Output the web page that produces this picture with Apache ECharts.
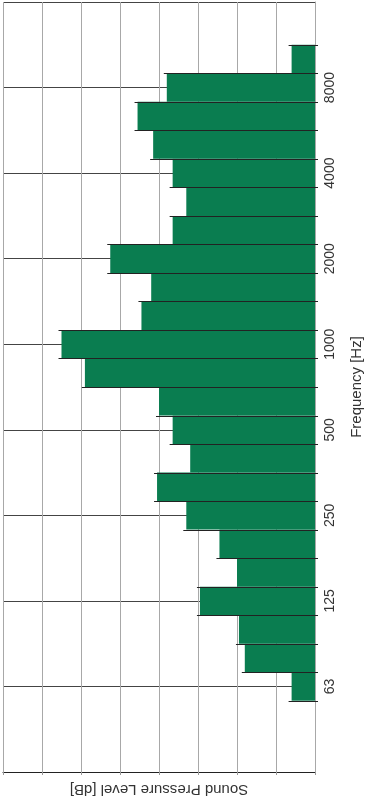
<!DOCTYPE html>
<html>
<head>
<meta charset="utf-8">
<script src="https://cdn.jsdelivr.net/npm/echarts@6/dist/echarts.min.js"></script>
<style>
html,body{margin:0;padding:0;background:#fff;}
#chart{width:365px;height:800px;}
</style>
</head>
<body>
<div id="chart"></div>
<script>
// Third-octave band centre frequencies (Hz), bottom to top
var frequencies = ['31.5','40','50','63','80','100','125','160','200','250','315','400','500','630','800','1000','1250','1600','2000','2500','3150','4000','5000','6300','8000','10000','12500','16000'];
// Sound pressure level per band (dB), null = no bar
var levels = [null,null,null,6,18,19.5,29.5,20,24.5,33,40.5,32,36.5,40,59,65,44.5,42,52.5,36.5,33,36.5,41.5,45.5,38,6,null,null];
// Frequency tick labels shown on the axis
var tickLabels = ['63','125','250','500','1000','2000','4000','8000'];
// Octave grid lines
var octaveLines = ['31.5','63','125','250','500','1000','2000','4000','8000','16000'];

// band edges between neighbouring bars: [longer neighbour level, lower band index]
var edges = [];
for (var k = 0; k < levels.length - 1; k++) {
  var a = levels[k] || 0, b = levels[k + 1] || 0;
  if (a > 0 || b > 0) edges.push([Math.max(a, b), k]);
}

var chart = echarts.init(document.getElementById('chart'), null, {renderer:'canvas'});
chart.setOption({
  animation:false,
  textStyle:{fontFamily:'Liberation Sans, Arial, sans-serif'},
  grid:{left:3,right:50,top:2,bottom:28,containLabel:false,outerBoundsMode:'none'},
  xAxis:{
    type:'value', inverse:true, min:0, max:80, interval:10,
    name:'Sound Pressure Level [dB]', nameLocation:'middle', nameRotate:180, nameGap:10,
    nameTextStyle:{fontSize:15,color:'#333'},
    axisLine:{show:true,lineStyle:{color:'#222',width:1}},
    axisTick:{show:true,length:3,lineStyle:{color:'#999'}},
    axisLabel:{show:false},
    splitLine:{show:true,lineStyle:{color:'#a8a8a8',width:1}}
  },
  yAxis:{
    type:'category', position:'right', data:frequencies, boundaryGap:false,
    name:'Frequency [Hz]', nameLocation:'middle', nameRotate:90, nameGap:34,
    nameTextStyle:{fontSize:15,color:'#333'},
    axisLine:{show:true,lineStyle:{color:'#a8a8a8',width:1}},
    axisTick:{show:false},
    axisLabel:{
      show:true, rotate:90, margin:8, fontSize:14, color:'#333',
      interval:function(i,v){return tickLabels.indexOf(v)>=0;}
    },
    splitLine:{show:true, interval:function(i,v){return octaveLines.indexOf(v)>=0;}, lineStyle:{color:'#444',width:1}}
  },
  series:[{
    type:'bar', data:levels, barCategoryGap:'0%',
    itemStyle:{color:'#0a7d50',borderWidth:0}
  },{
    type:'custom', data:edges, encode:{x:0,y:1}, z:3, silent:true,
    renderItem:function(params, api){
      var v = api.value(0), k = api.value(1);
      var p0 = api.coord([0, k]);
      var p1 = api.coord([v, k]);
      var h = api.size([0, 1])[1];
      var y = Math.round(p0[1] - h / 2) + 0.5;
      return {type:'line', shape:{x1:p0[0] + 3, y1:y, x2:p1[0] - 3, y2:y},
        style:{stroke:'#222', lineWidth:1}};
    }
  }]
});
</script>
</body>
</html>
